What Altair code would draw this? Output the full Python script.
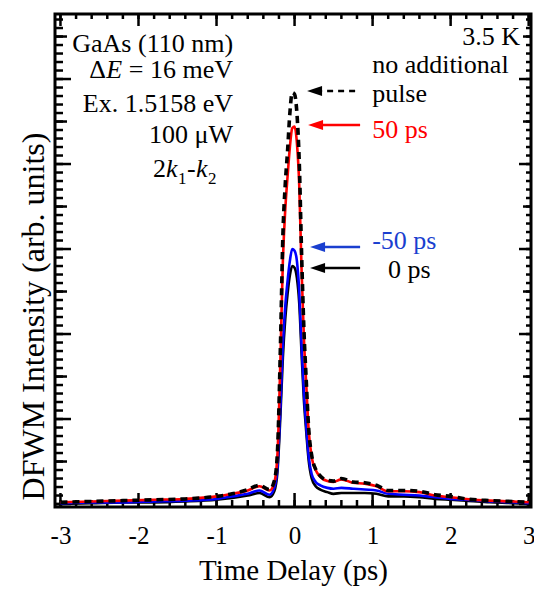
import altair as alt
import pandas as pd

# ---------------- data ----------------
time_ps = [-3.0, -2.6, -2.2, -1.8, -1.4, -1.0, -0.8, -0.6, -0.45, -0.32,
           -0.26, -0.22, -0.18, -0.15, -0.12, -0.09, -0.06, -0.03, 0.0, 0.03,
           0.06, 0.09, 0.12, 0.15, 0.18, 0.22, 0.27, 0.33, 0.42, 0.5,
           0.6, 0.75, 0.9, 1.05, 1.2, 1.4, 1.6, 1.8, 2.0, 2.2,
           2.5, 2.8, 3.0]
no_pulse = [0.02, 0.03, 0.04, 0.05, 0.06, 0.09, 0.12, 0.17, 0.22, 0.17,
            0.27, 0.6, 1.9, 3.15, 3.75, 4.15, 4.6, 4.84, 4.82, 4.6,
            4.03, 2.95, 2.05, 1.45, 0.9, 0.57, 0.41, 0.33, 0.28, 0.27,
            0.3, 0.26, 0.25, 0.22, 0.16, 0.16, 0.15, 0.11, 0.09, 0.06,
            0.04, 0.03, 0.02]
delay_p50 = [0.02, 0.03, 0.04, 0.05, 0.06, 0.09, 0.12, 0.16, 0.21, 0.16,
             0.25, 0.57, 1.75, 2.85, 3.45, 3.85, 4.2, 4.42, 4.44, 4.25,
             3.75, 2.75, 1.95, 1.4, 0.88, 0.55, 0.4, 0.32, 0.27, 0.26,
             0.29, 0.25, 0.24, 0.21, 0.15, 0.15, 0.14, 0.1, 0.08, 0.06,
             0.04, 0.03, 0.02]
delay_m50 = [0.01, 0.02, 0.02, 0.03, 0.04, 0.06, 0.09, 0.12, 0.16, 0.11,
             0.19, 0.42, 1.17, 1.87, 2.32, 2.62, 2.86, 3.0, 2.98, 2.86,
             2.5, 1.86, 1.31, 0.91, 0.57, 0.35, 0.26, 0.22, 0.19, 0.18,
             0.19, 0.18, 0.17, 0.16, 0.12, 0.11, 0.1, 0.08, 0.06, 0.05,
             0.03, 0.02, 0.01]
delay_0 = [0.0, 0.01, 0.02, 0.02, 0.03, 0.05, 0.07, 0.1, 0.13, 0.08,
           0.15, 0.37, 1.07, 1.72, 2.17, 2.47, 2.69, 2.8, 2.78, 2.66,
           2.36, 1.77, 1.22, 0.85, 0.52, 0.3, 0.21, 0.17, 0.14, 0.12,
           0.13, 0.13, 0.13, 0.12, 0.09, 0.09, 0.08, 0.06, 0.05, 0.04,
           0.02, 0.01, 0.0]

# tick values
x_major = [-3, -2, -1, 0, 1, 2, 3]
x_minor = [round(-3 + 0.2 * i, 1) for i in range(31)]
y_major = [0, 1, 2, 3, 4, 5]
y_mid = [0.5, 1.5, 2.5, 3.5, 4.5, 5.5]
y_minor = [round(0.1 * i, 1) for i in range(58)]

# annotation anchors (data units)
left_lines = ["GaAs (110 nm)", "Ex. 1.5158 eV", "100 \u03bcW"]
left_lines_y = [5.318, 4.612, 4.247]
left_x = -0.788
dE_y = 5.012
k_x = -1.814
k_y = 3.847

right_black = ["no additional", "pulse"]
right_black_y = [5.071, 4.729]
label_x = 0.994
temp_label = "3.5 K"
temp_x, temp_y = 2.891, 5.4
lab_p50, lab_p50_y = "50 ps", 4.306
lab_m50, lab_m50_y = "-50 ps", 3.0
lab_0, lab_0_x, lab_0_y = "0 ps", 1.199, 2.659

arrow_tail = [0.776, 0.84, 0.84, 0.84]
arrow_tip = [0.16, 0.173, 0.199, 0.199]
arrow_y = [4.859, 4.459, 3.024, 2.776]
arrow_color = ["black", "#ff0000", "#1a3fcf", "black"]
arrow_dash = [[6, 5], [1, 0], [1, 0], [1, 0]]

FONT = "Liberation Serif"
W, H = 476, 493
XDOM = [-3.07, 3.03]
YDOM = [-0.035, 5.765]
xs = alt.Scale(domain=XDOM, nice=False, zero=False)
ys = alt.Scale(domain=YDOM, nice=False, zero=False)

base_df = pd.DataFrame({"t": time_ps, "v": no_pulse})

# frame axes: labels and titles only (ticks drawn as rules below)
axis_layer = alt.Chart(base_df).mark_point(opacity=0).encode(
    x=alt.X("t:Q", scale=xs, axis=alt.Axis(
        orient="bottom", values=x_major, ticks=False, tickSize=0, domain=False, grid=False,
        labelFont=FONT, labelFontSize=25, labelColor="black", labelPadding=36,
        labelBaseline="alphabetic", labelFlush=False, labelOverlap=False, format="d",
        labelExpr="replace(datum.label, '\u2212', '-')",
        title="Time Delay (ps)", titleFont=FONT, titleFontSize=29, titleFontWeight="normal",
        titleColor="black", titleY=72, titleBaseline="alphabetic")),
    y=alt.Y("v:Q", scale=ys, axis=alt.Axis(
        orient="left", values=y_major, ticks=False, tickSize=0, domain=False, grid=False,
        labels=False, title="DFWM Intensity (arb. units)", titleFont=FONT, titleFontSize=32,
        titleFontWeight="normal", titleColor="black", titleAngle=270, titleAlign="center",
        titleBaseline="middle", titleX=-22, titleY=302)),
)


def xticks(vals, y0, y1):
    df = pd.DataFrame({"v": vals})
    return alt.Chart(df).mark_rule(color="black", strokeWidth=2.5).encode(
        x=alt.X("v:Q", scale=xs, axis=None), y=alt.value(y0), y2=alt.value(y1))


def yticks(vals, x0, x1):
    df = pd.DataFrame({"v": vals})
    return alt.Chart(df).mark_rule(color="black", strokeWidth=2.5).encode(
        y=alt.Y("v:Q", scale=ys, axis=None), x=alt.value(x0), x2=alt.value(x1))


ticks = [
    xticks(x_major, H - 14, H), xticks(x_minor, H - 7, H),
    xticks(x_major, 0, 12), xticks(x_minor, 0, 5),
    yticks(y_major, 0, 16), yticks(y_mid, 0, 12), yticks(y_minor, 0, 8),
    yticks(y_major, W - 12, W), yticks(y_mid, W - 8, W), yticks(y_minor, W - 5, W),
]


def line_layer(vals, color, width, dash=None):
    kw = dict(color=color, strokeWidth=width, interpolate="monotone", clip=True)
    if dash:
        kw["strokeDash"] = dash
    df = pd.DataFrame({"t": time_ps, "v": vals})
    return alt.Chart(df).mark_line(**kw).encode(
        x=alt.X("t:Q", scale=xs, axis=None),
        y=alt.Y("v:Q", scale=ys, axis=None),
    )


lines = [
    line_layer(delay_0, "black", 2.6),
    line_layer(delay_m50, "#0000ff", 2.6),
    line_layer(delay_p50, "#ff0000", 2.6),
    line_layer(no_pulse, "black", 3.6, dash=[7, 5]),
]

arrows = []
for tail, tip, yy, col, dash in zip(arrow_tail, arrow_tip, arrow_y, arrow_color, arrow_dash):
    adf = pd.DataFrame({"a": [tail], "b": [tip + 0.12], "tip": [tip], "y": [yy]})
    arrows.append(alt.Chart(adf).mark_rule(color=col, strokeWidth=2.6, strokeDash=dash).encode(
        x=alt.X("a:Q", scale=xs, axis=None), x2="b:Q", y=alt.Y("y:Q", scale=ys, axis=None)))
    arrows.append(alt.Chart(adf).mark_point(shape="M0,0L3,-1L3,1Z", size=100, filled=True,
                                            fill=col, strokeWidth=0, opacity=1).encode(
        x=alt.X("tip:Q", scale=xs, axis=None), y=alt.Y("y:Q", scale=ys, axis=None)))


def txt(text, x, y, color="black", align="left", size=26, style="normal", dx=0, dy=0):
    tdf = pd.DataFrame({"x": [x], "y": [y], "s": [text]})
    return alt.Chart(tdf).mark_text(font=FONT, fontSize=size, fontStyle=style, color=color,
                                    align=align, baseline="alphabetic", dx=dx, dy=dy).encode(
        x=alt.X("x:Q", scale=xs, axis=None), y=alt.Y("y:Q", scale=ys, axis=None), text="s:N")


texts = []
for t, yy in zip(left_lines, left_lines_y):
    texts.append(txt(t, left_x, yy, align="right"))
texts += [
    txt("= 16 meV", left_x, dE_y, align="right"),
    txt("E", left_x, dE_y, align="right", style="italic", dx=-111),
    txt("\u0394", left_x, dE_y, align="right", dx=-127),
    txt("2", k_x, k_y),
    txt("k", k_x, k_y, style="italic", dx=13),
    txt("1", k_x, k_y, size=17, dx=25, dy=7),
    txt("-", k_x, k_y, dx=34),
    txt("k", k_x, k_y, style="italic", dx=43),
    txt("2", k_x, k_y, size=17, dx=55, dy=7),
    txt(temp_label, temp_x, temp_y, align="right"),
    txt(lab_p50, label_x, lab_p50_y, color="#ff0000"),
    txt(lab_m50, label_x, lab_m50_y, color="#1a3fcf"),
    txt(lab_0, lab_0_x, lab_0_y),
]
for t, yy in zip(right_black, right_black_y):
    texts.append(txt(t, label_x, yy))

chart = alt.layer(axis_layer, *ticks, *lines, *arrows, *texts).resolve_axis(
    x="independent", y="independent"
).properties(
    width=W, height=H,
    autosize=alt.AutoSizeParams(type="none"),
    padding={"left": 47, "top": 6, "right": 3, "bottom": 82},
).configure_view(stroke="black", strokeWidth=3)

chart.save("out.html", embed_options={"renderer": "svg", "actions": False})
